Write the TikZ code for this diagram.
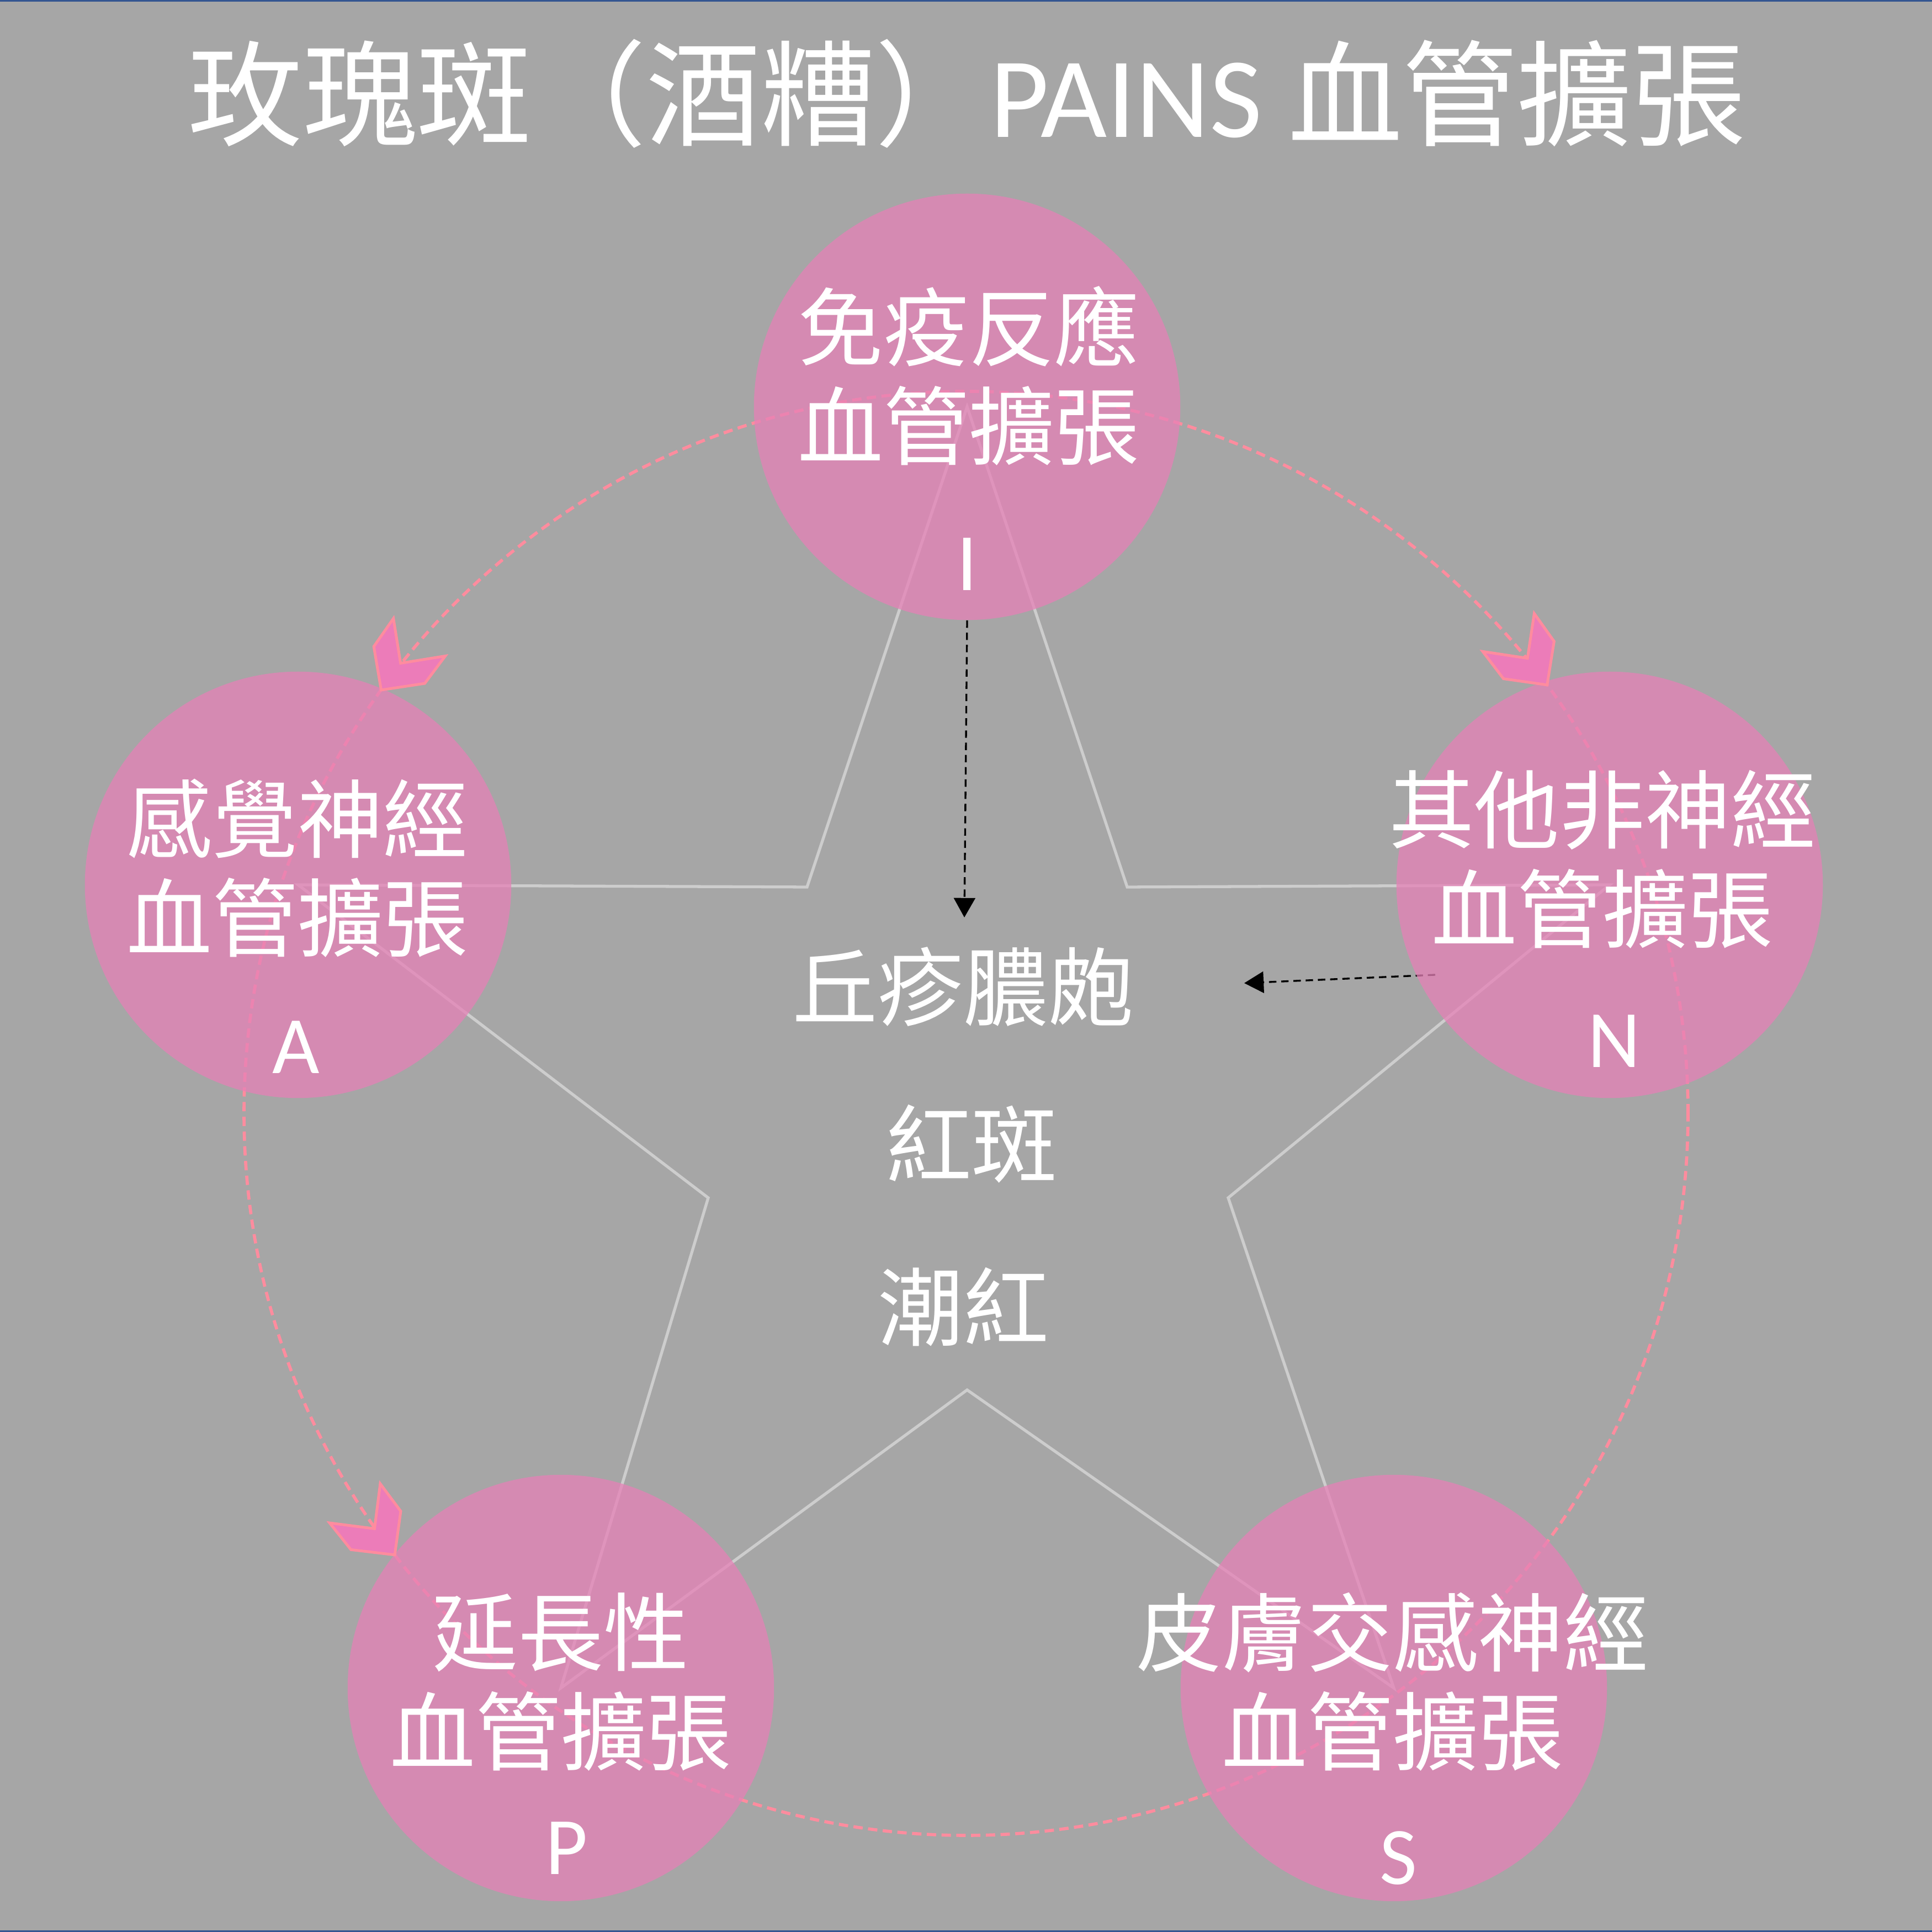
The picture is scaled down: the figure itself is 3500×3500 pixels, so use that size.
\documentclass[tikz,border=0pt]{standalone}
\usepackage{fontspec}
\setmainfont{Noto Sans CJK TC}
\newfontfamily\latinfont{Carlito}
\usetikzlibrary{arrows.meta,positioning}

\definecolor{slide}{HTML}{A6A6A6}
\definecolor{edgeblue}{HTML}{345591}
\definecolor{bubblepink}{RGB}{230,129,183}
\definecolor{ringpink}{HTML}{FF8C9E}
\definecolor{chevfill}{HTML}{EC7CB9}
\definecolor{starline}{RGB}{205,205,205}

\tikzset{
  bubble/.style={circle,fill=bubblepink,fill opacity=0.75,minimum size=7.72cm,inner sep=0pt},
  bubbletext/.style={text=white,align=center,font=\fontsize{44}{51}\selectfont},
  letter/.style={text=white,font=\latinfont\fontsize{42}{42}\selectfont},
  effect/.style={text=white,font=\fontsize{44}{51}\selectfont},
  ringline/.style={draw=ringpink,line width=1.6pt,dash pattern=on 4.8pt off 2.8pt},
  cue/.style={draw=black,line width=0.95pt,dash pattern=on 3.8pt off 2.5pt,-{Triangle[width=11pt,length=10pt]}},
  chevron/.pic={\filldraw[fill=chevfill,draw=ringpink,line width=1.4pt,line join=miter]
    (0,0) -- (-56,57) -- (-118,58) -- (-60,0) -- (-118,-58) -- (-56,-57) -- cycle;}
}

\begin{document}
\begin{tikzpicture}[x=0.01cm,y=0.01cm,>=Latex]
% slide
\fill[slide] (0,0) rectangle (3500,3500);
\fill[edgeblue] (0,3497) rectangle (3500,3500);
\fill[edgeblue] (0,0) rectangle (3500,3);

% centres of the five circles
\coordinate (cI) at (1752,2763);
\coordinate (cA) at (540,1897);
\coordinate (cN) at (2916,1897);
\coordinate (cP) at (1016,442);
\coordinate (cS) at (2525,442);
\coordinate (ring) at (1750,1483);

% star
\draw[starline,line width=1.5pt,line join=miter] (cI) -- (2042,1893) -- (cN) -- (2225,1330) -- (cS)
  -- (1752,982) -- (cP) -- (1283,1330) -- (cA) -- (1462,1893) -- cycle;

% dashed ring
\path[ringline] (ring) circle[radius=1308];

% arrow out of N
\coordinate (fromN) at (2600,1734);
\coordinate (tipN) at (2254,1719);
\draw[cue] (fromN) -- (tipN);

% circles
\node[bubble] (I) at (cI) {};
\node[bubble] (A) at (cA) {};
\node[bubble] (N) at (cN) {};
\node[bubble] (P) at (cP) {};
\node[bubble] (S) at (cS) {};

% arrow heads on the ring
\path (ring) ++(144.1:1308) pic[rotate=234.1] {chevron};
\path (ring) ++(36.4:1308) pic[rotate=-53.6] {chevron};
\path (ring) ++(217.7:1308) pic[rotate=307.7] {chevron};

% arrow out of I
\coordinate (tipI) at (1747,1838);
\draw[cue] (I.south) -- (tipI);

% title
\node[text=white,font=\fontsize{59}{59}\selectfont] (title) at (1752,3330) {玫瑰斑（酒糟）{\latinfont PAINS} 血管擴張};

% circle texts
\node[bubbletext] (Itext) at (1755,2819) {免疫反應\\血管擴張};
\node[letter] (Ilet) at (1752,2478) {I};
\node[bubbletext] (Atext) at (539,1927) {感覺神經\\血管擴張};
\node[letter] (Alet) at (536,1603) {A};
\node[bubbletext] (Ntext) at (2903,1943) {其他非神經\\血管擴張};
\node[letter] (Nlet) at (2924,1614) {N};
\node[bubbletext] (Ptext) at (1016,453) {延長性\\血管擴張};
\node[letter] (Plet) at (1027,152) {P};
\node[bubbletext] (Stext) at (2523,453) {皮膚交感神經\\血管擴張};
\node[letter] (Slet) at (2533,134) {S};

% symptoms in the middle
\node[effect] (papule) at (1745,1712) {丘疹膿皰};
\node[effect] (erythema) at (1760,1428) {紅斑};
\node[effect] (flush) at (1745,1132) {潮紅};
\end{tikzpicture}
\end{document}
